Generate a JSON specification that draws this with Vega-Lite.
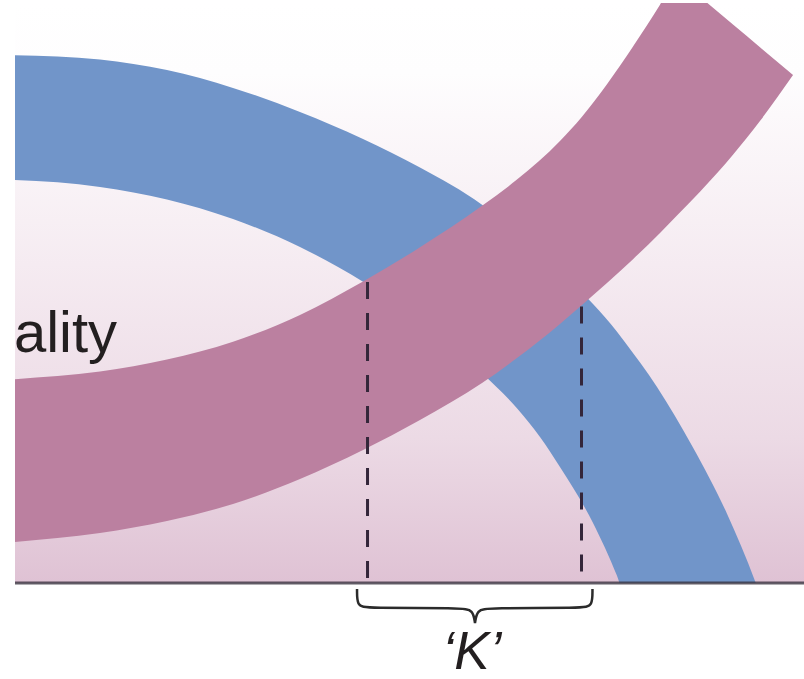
{
  "$schema": "https://vega.github.io/schema/vega-lite/v6.json",
  "width": 789,
  "height": 580,
  "autosize": {"type": "none"},
  "padding": {"left": 15, "top": 3, "right": 0, "bottom": 96},
  "background": "#ffffff",
  "config": {"view": {"stroke": null}},
  "datasets": {
    "bg": [{"x0": 0, "x1": 100, "y0": 0, "y1": 100}],
    "blue": [
      {"x": -2.53, "top": 91.03, "bot": 69.57},
      {"x": 0, "top": 91.0, "bot": 69.48},
      {"x": 10.77, "top": 90.28, "bot": 68.28},
      {"x": 19.26, "top": 88.43, "bot": 66.12},
      {"x": 27.63, "top": 85.36, "bot": 62.76},
      {"x": 36.12, "top": 81.21, "bot": 57.93},
      {"x": 44.11, "top": 76.55, "bot": 51.95},
      {"x": 51.33, "top": 71.64, "bot": 45.26},
      {"x": 59.19, "top": 65.22, "bot": 36.17},
      {"x": 63.62, "top": 60.4, "bot": 30.14},
      {"x": 66.54, "top": 57.22, "bot": 25.17},
      {"x": 69.07, "top": 53.78, "bot": 20.0},
      {"x": 73.26, "top": 48.09, "bot": 10.34},
      {"x": 76.3, "top": 43.33, "bot": 1.24},
      {"x": 77.31, "top": 41.53, "bot": -2.34},
      {"x": 81.37, "top": 33.81, "bot": -4.66},
      {"x": 85.93, "top": 23.38, "bot": -4.66},
      {"x": 90.24, "top": 11.95, "bot": -4.66},
      {"x": 93.79, "top": 0.36, "bot": -4.66},
      {"x": 95.69, "top": -6.88, "bot": -6.88}
    ],
    "pink": [
      {"x": -2.53, "top": 34.83, "bot": 6.72},
      {"x": 0, "top": 35.12, "bot": 7.07},
      {"x": 10.77, "top": 36.45, "bot": 8.62},
      {"x": 19.26, "top": 38.53, "bot": 10.69},
      {"x": 27.63, "top": 41.6, "bot": 13.62},
      {"x": 36.12, "top": 46.22, "bot": 17.93},
      {"x": 44.11, "top": 51.98, "bot": 22.93},
      {"x": 51.33, "top": 57.88, "bot": 28.1},
      {"x": 59.19, "top": 65.03, "bot": 34.48},
      {"x": 63.62, "top": 69.55, "bot": 38.79},
      {"x": 69.07, "top": 76.22, "bot": 44.66},
      {"x": 71.86, "top": 80.4, "bot": 47.93},
      {"x": 75.03, "top": 86.0, "bot": 51.72},
      {"x": 78.33, "top": 92.5, "bot": 55.84},
      {"x": 81.75, "top": 99.71, "bot": 60.36},
      {"x": 83.9, "top": 104.4, "bot": 63.38},
      {"x": 86.82, "top": 101.07, "bot": 67.47},
      {"x": 91.0, "top": 96.29, "bot": 73.84},
      {"x": 94.42, "top": 92.38, "bot": 79.66},
      {"x": 98.61, "top": 87.59, "bot": 87.59}
    ],
    "dash": [
      {"x": 44.68, "ytop": 51.9, "ybot": 0.86},
      {"x": 71.8, "ytop": 47.67, "ybot": 0.86}
    ],
    "base": [{"x0": 0, "x1": 100, "y": 0}],
    "brace": [
      {"i": 0, "x": 43.35, "y": -1.03},
      {"i": 1, "x": 43.35, "y": -3.97},
      {"i": 2, "x": 44.49, "y": -4.31},
      {"i": 3, "x": 56.65, "y": -4.31},
      {"i": 4, "x": 58.05, "y": -4.66},
      {"i": 5, "x": 58.3, "y": -6.9},
      {"i": 6, "x": 58.3, "y": -6.9},
      {"i": 7, "x": 58.3, "y": -6.9},
      {"i": 8, "x": 58.56, "y": -4.66},
      {"i": 9, "x": 59.95, "y": -4.31},
      {"i": 10, "x": 72.05, "y": -4.31},
      {"i": 11, "x": 73.19, "y": -3.97},
      {"i": 12, "x": 73.19, "y": -1.03}
    ],
    "word": [{"x": -0.13, "y": 39.83, "t": "ality"}],
    "klabel": [{"x": 57.92, "y": -14.83, "t": "‘K’"}]
  },
  "layer": [
    {
      "data": {"name": "bg"},
      "mark": {
        "type": "rect",
        "fill": {
          "gradient": "linear", "x1": 0, "y1": 0, "x2": 0, "y2": 1,
          "stops": [
            {"offset": 0, "color": "#ffffff"},
            {"offset": 0.12, "color": "#fefdfe"},
            {"offset": 0.45, "color": "#f5ebf1"},
            {"offset": 0.75, "color": "#ecdae5"},
            {"offset": 1, "color": "#dfc2d4"}
          ]
        }
      },
      "encoding": {
        "x": {"field": "x0", "type": "quantitative", "scale": {"domain": [0, 100], "nice": false, "zero": false}, "axis": null},
        "x2": {"field": "x1"},
        "y": {"field": "y1", "type": "quantitative", "scale": {"domain": [0, 100], "nice": false, "zero": false}, "axis": null},
        "y2": {"field": "y0"}
      }
    },
    {
      "data": {"name": "blue"},
      "mark": {"type": "area", "color": "#7195c9", "interpolate": "monotone", "clip": true},
      "encoding": {
        "x": {"field": "x", "type": "quantitative"},
        "y": {"field": "top", "type": "quantitative"},
        "y2": {"field": "bot"}
      }
    },
    {
      "data": {"name": "pink"},
      "mark": {"type": "area", "color": "#bb80a0", "interpolate": "monotone", "clip": true},
      "encoding": {
        "x": {"field": "x", "type": "quantitative"},
        "y": {"field": "top", "type": "quantitative"},
        "y2": {"field": "bot"}
      }
    },
    {
      "data": {"name": "word"},
      "mark": {"type": "text", "align": "left", "baseline": "alphabetic", "font": "Liberation Sans", "fontSize": 58, "color": "#231f20"},
      "encoding": {
        "x": {"field": "x", "type": "quantitative"},
        "y": {"field": "y", "type": "quantitative"},
        "text": {"field": "t"}
      }
    },
    {
      "data": {"name": "dash"},
      "mark": {"type": "rule", "color": "#34263a", "strokeWidth": 3, "strokeDash": [17, 14], "strokeCap": "butt"},
      "encoding": {
        "x": {"field": "x", "type": "quantitative"},
        "y": {"field": "ytop", "type": "quantitative"},
        "y2": {"field": "ybot"}
      }
    },
    {
      "data": {"name": "base"},
      "mark": {"type": "rule", "color": "#3a3340", "opacity": 0.8, "strokeWidth": 3},
      "encoding": {
        "x": {"field": "x0", "type": "quantitative"},
        "x2": {"field": "x1"},
        "y": {"field": "y", "type": "quantitative"}
      }
    },
    {
      "data": {"name": "brace"},
      "mark": {"type": "line", "color": "#2b2b2b", "strokeWidth": 2.5, "interpolate": "basis"},
      "encoding": {
        "x": {"field": "x", "type": "quantitative"},
        "y": {"field": "y", "type": "quantitative"},
        "order": {"field": "i", "type": "quantitative"}
      }
    },
    {
      "data": {"name": "klabel"},
      "mark": {"type": "text", "align": "center", "baseline": "alphabetic", "font": "Liberation Sans", "fontStyle": "italic", "fontSize": 53, "color": "#231f20"},
      "encoding": {
        "x": {"field": "x", "type": "quantitative"},
        "y": {"field": "y", "type": "quantitative"},
        "text": {"field": "t"}
      }
    }
  ]
}
